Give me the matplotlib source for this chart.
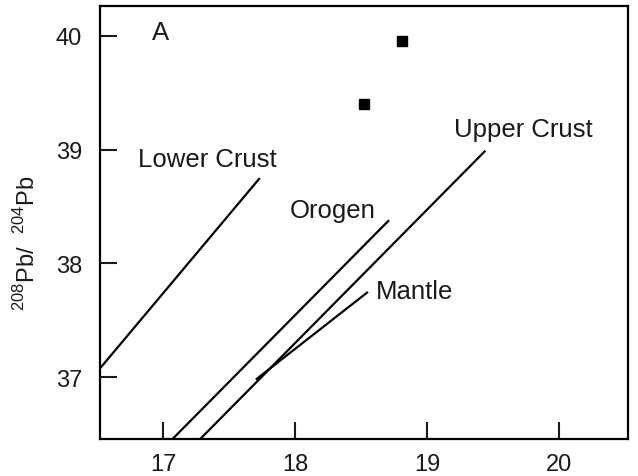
import matplotlib
matplotlib.use("Agg")
import matplotlib.pyplot as plt

plt.rcParams['font.family'] = ['Liberation Sans', 'DejaVu Sans']
plt.rcParams['mathtext.fontset'] = 'custom'
plt.rcParams['mathtext.rm'] = 'Liberation Sans'

# Reference lines (x, y endpoints)
lower_crust_x = [16.52, 17.73]
lower_crust_y = [37.08, 38.75]
orogen_x = [17.07, 18.71]
orogen_y = [36.46, 38.38]
upper_crust_x = [17.28, 19.44]
upper_crust_y = [36.46, 38.99]
mantle_x = [17.70, 18.55]
mantle_y = [36.98, 37.75]

# Sample points
sample_x = [18.52, 18.81]
sample_y = [39.40, 39.95]

xticks = [17, 18, 19, 20]
yticks = [37, 38, 39, 40]

fig = plt.figure(figsize=(6.38, 4.77), dpi=100)
ax = fig.add_axes([0.157, 0.078, 0.827, 0.907])

for xs, ys in [(lower_crust_x, lower_crust_y), (orogen_x, orogen_y),
               (upper_crust_x, upper_crust_y), (mantle_x, mantle_y)]:
    ax.plot(xs, ys, color='black', lw=1.6, solid_capstyle='butt')

ax.plot(sample_x, sample_y, 's', color='black', markersize=7.5, linestyle='none')

ax.set_xlim(16.52, 20.52)
ax.set_ylim(36.46, 40.26)
ax.set_xticks(xticks)
ax.set_yticks(yticks)
ax.tick_params(direction='in', length=12, width=1.5, labelsize=17, colors='#1a1a1a')
ax.tick_params(axis='x', pad=10)
ax.tick_params(axis='y', pad=13)
for s in ax.spines.values():
    s.set_linewidth(1.6)

fig.text(27/638, 1-243/477, r'$^{208}$Pb/  $^{204}$Pb', fontsize=17, rotation=90,
         ha='center', va='center', color='#1a1a1a')

tkw = dict(fontsize=18.5, color='#1a1a1a', ha='center', va='center')
ax.text(16.975, 40.03, 'A', **tkw)
ax.text(17.33, 38.92, 'Lower Crust', **tkw)
ax.text(18.285, 38.47, 'Orogen', **tkw)
ax.text(19.73, 39.18, 'Upper Crust', **tkw)
ax.text(18.906, 37.76, 'Mantle', **tkw)

fig.savefig('out.png', dpi=100)
